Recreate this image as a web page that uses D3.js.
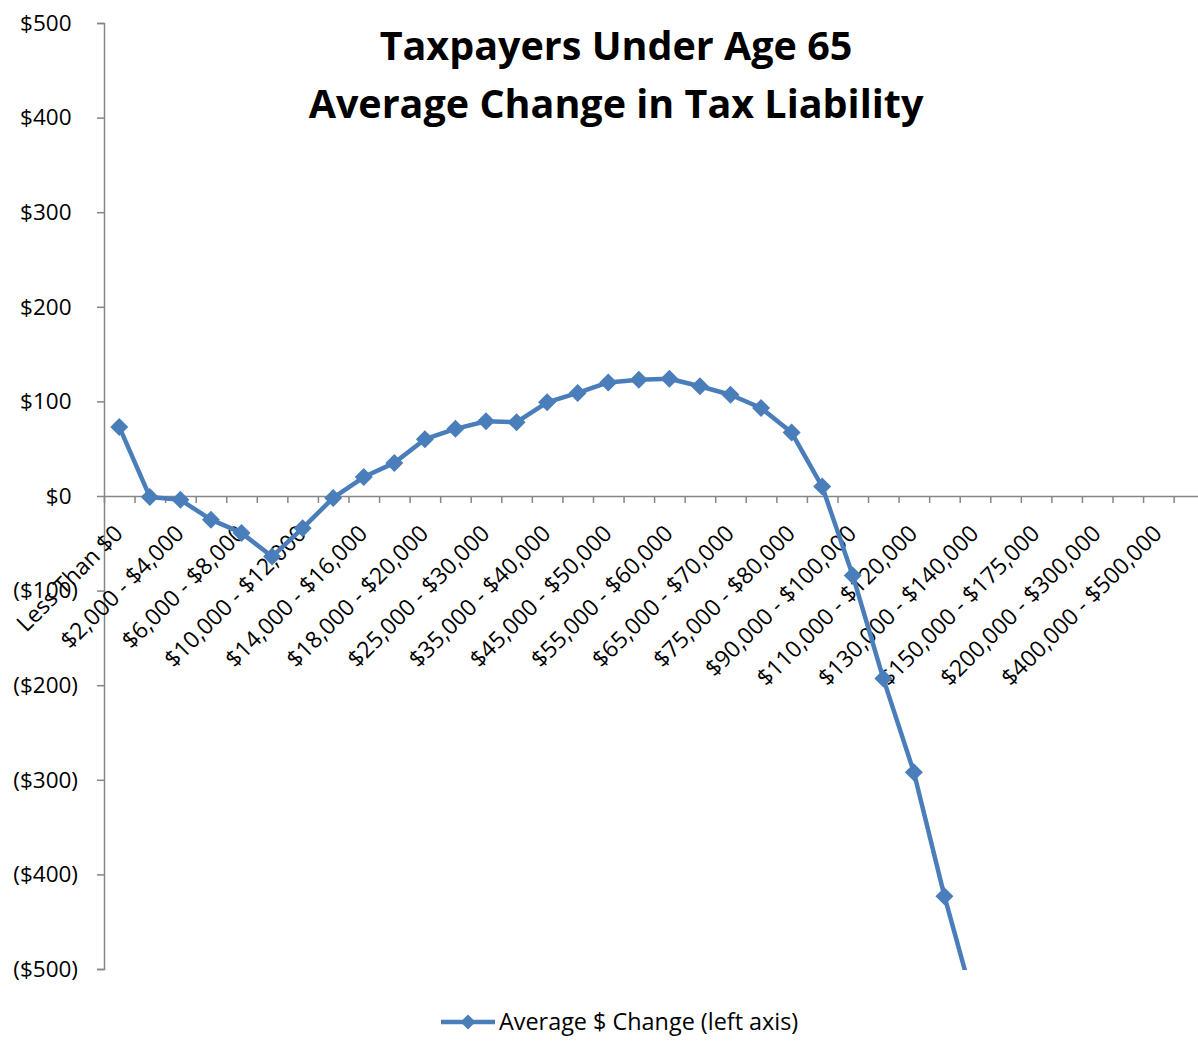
<!DOCTYPE html>
<html>
<head>
<meta charset="utf-8">
<script src="https://cdn.jsdelivr.net/npm/d3@7"></script>
<style>
  html, body { margin: 0; padding: 0; background: #ffffff; }
  svg { display: block; }
  text { font-family: "Open Sans", "Noto Sans", sans-serif; fill: #000; }
</style>
</head>
<body>
<svg id="chart" width="1198" height="1059"></svg>
<script>
// Income brackets (adjusted gross income)
const categories = [
  "Less Than $0", "$0 - $2,000", "$2,000 - $4,000", "$4,000 - $6,000",
  "$6,000 - $8,000", "$8,000 - $10,000", "$10,000 - $12,000", "$12,000 - $14,000",
  "$14,000 - $16,000", "$16,000 - $18,000", "$18,000 - $20,000", "$20,000 - $25,000",
  "$25,000 - $30,000", "$30,000 - $35,000", "$35,000 - $40,000", "$40,000 - $45,000",
  "$45,000 - $50,000", "$50,000 - $55,000", "$55,000 - $60,000", "$60,000 - $65,000",
  "$65,000 - $70,000", "$70,000 - $75,000", "$75,000 - $80,000", "$80,000 - $90,000",
  "$90,000 - $100,000", "$100,000 - $110,000", "$110,000 - $120,000", "$120,000 - $130,000",
  "$130,000 - $140,000", "$140,000 - $150,000", "$150,000 - $175,000", "$175,000 - $200,000",
  "$200,000 - $300,000", "$300,000 - $400,000", "$400,000 - $500,000", "$500,000+"
];

// Average $ change in tax liability per bracket (brackets past the axis floor left blank)
const avgChange = [
  73, -1, -4, -25, -39, -64, -34, -2, 20, 35, 60, 71,
  79, 78, 99, 109, 120, 123, 124, 116, 107, 93, 67, 10,
  -84, -193, -292, -423, -540, null, null, null, null, null, null, null
];

const yTicks = [-500, -400, -300, -200, -100, 0, 100, 200, 300, 400, 500];

const titleLines = ["Taxpayers Under Age 65", "Average Change in Tax Liability"];
const seriesName = "Average $ Change (left axis)";

const W = 1198, H = 1059;
const plot = { left: 104, right: 1204.2, top: 23, bottom: 969 };
const blue = "#4A7EBB";
const axisGrey = "#868686";

const svg = d3.select("#chart");

const x = d3.scaleBand().domain(categories).range([plot.left, plot.right]).padding(0);
const xEdge = d3.scaleLinear().domain([0, categories.length]).range([plot.left, plot.right]);
const y = d3.scaleLinear().domain([-500, 500]).range([plot.bottom, plot.top]);
const cx = c => x(c) + x.bandwidth() / 2;

const fmt = d => d < 0 ? `($${-d})` : `$${d}`;

// Y axis
const yAxis = svg.append("g")
  .attr("transform", `translate(${plot.left},0)`)
  .call(d3.axisLeft(y).tickValues(yTicks).tickSize(7).tickSizeOuter(7).tickPadding(19).tickFormat(fmt));
yAxis.select(".domain").attr("stroke", axisGrey).attr("stroke-width", 1.5);
yAxis.selectAll(".tick line").attr("stroke", axisGrey).attr("stroke-width", 1.5);
yAxis.selectAll(".tick text")
  .style("font-size", "22.5px")
  .attr("font-family", null)
  .attr("dx", d => d >= 0 ? -6.5 : 0);

// X axis: boundary ticks along the zero line
const xAxis = svg.append("g")
  .attr("transform", `translate(0,${y(0)})`)
  .call(d3.axisBottom(xEdge).tickValues(d3.range(0, categories.length + 1)).tickSize(7).tickSizeOuter(0).tickFormat(""));
xAxis.select(".domain").attr("stroke", axisGrey).attr("stroke-width", 1.5);
xAxis.selectAll(".tick line").attr("stroke", axisGrey).attr("stroke-width", 1.5);

// Category labels (every other bracket), rotated
const labelCats = categories.filter((c, i) => i % 2 === 0);
svg.append("g")
  .selectAll("text")
  .data(labelCats)
  .join("text")
  .attr("transform", c => `translate(${cx(c) + 5},${y(0) + 39}) rotate(-45)`)
  .attr("text-anchor", "end")
  .style("font-size", "23px")
  .text(c => c);

// Series line, clipped to plot area
svg.append("defs").append("clipPath").attr("id", "plotClip")
  .append("rect")
  .attr("x", plot.left).attr("y", plot.top)
  .attr("width", plot.right - plot.left).attr("height", plot.bottom - plot.top + 1);

const data = categories.map((c, i) => ({ c, v: avgChange[i] }));
const line = d3.line()
  .defined(d => d.v !== null)
  .x(d => cx(d.c))
  .y(d => y(d.v));

const g = svg.append("g").attr("clip-path", "url(#plotClip)");
g.append("path")
  .datum(data)
  .attr("fill", "none")
  .attr("stroke", blue)
  .attr("stroke-width", 4.5)
  .attr("stroke-linejoin", "round")
  .attr("d", line);

const diamond = r => `M0,${-r}L${r},0L0,${r}L${-r},0Z`;
g.selectAll("path.marker")
  .data(data.filter(d => d.v !== null))
  .join("path")
  .attr("class", "marker")
  .attr("transform", d => `translate(${cx(d.c)},${y(d.v)})`)
  .attr("d", diamond(9))
  .attr("fill", blue);

// Title
const title = svg.append("text")
  .attr("text-anchor", "middle")
  .style("font-size", "39.5px")
  .style("font-weight", "bold");
title.selectAll("tspan")
  .data(titleLines)
  .join("tspan")
  .attr("x", 616)
  .attr("y", (d, i) => 60 + i * 58)
  .text(d => d);

// Legend
const lg = svg.append("g").attr("transform", "translate(441,1022)");
lg.append("line").attr("x1", 0).attr("x2", 54).attr("y1", 0).attr("y2", 0)
  .attr("stroke", blue).attr("stroke-width", 4.5);
lg.append("path").attr("transform", "translate(27,0)").attr("d", diamond(7.5)).attr("fill", blue);
lg.append("text").attr("x", 58).attr("y", 8).style("font-size", "23.4px").text(seriesName);
</script>
</body>
</html>
